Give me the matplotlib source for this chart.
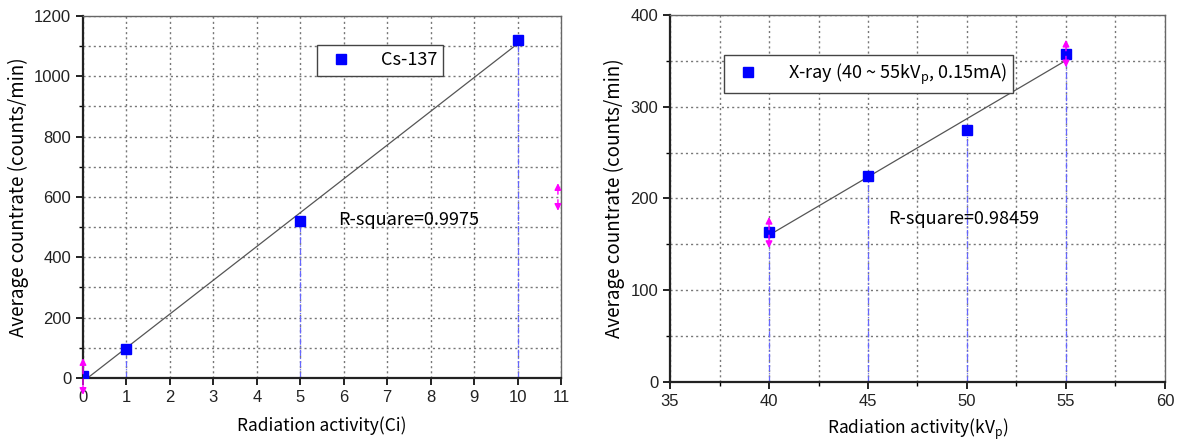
import numpy as np
import matplotlib.pyplot as plt
from matplotlib.ticker import MultipleLocator

plt.rcParams['font.family'] = ['Noto Sans CJK KR', 'DejaVu Sans']
plt.rcParams['mathtext.default'] = 'regular'

# Cs-137 data
cs_activity = [0, 1, 5, 10]
cs_counts = [5, 97, 520, 1122]
cs_r2 = 'R-square=0.9975'

# X-ray data
xr_kvp = [40, 45, 50, 55]
xr_counts = [163, 225, 275, 358]
xr_r2 = 'R-square=0.98459'

fig = plt.figure(figsize=(11.79, 4.45), dpi=100)
ax1 = fig.add_axes([0.0704, 0.1506, 0.4054, 0.8135])
ax2 = fig.add_axes([0.5683, 0.1416, 0.4198, 0.8247])


def style_axes(ax):
    for s in ['left', 'bottom']:
        ax.spines[s].set_linewidth(1.6)
        ax.spines[s].set_color('#222222')
    for s in ['top', 'right']:
        ax.spines[s].set_linewidth(1.0)
        ax.spines[s].set_color('#666666')
    ax.tick_params(which='major', direction='out', length=5, width=1.4, labelsize=12, colors='#222222')
    ax.tick_params(which='minor', direction='out', length=3, width=1.0)
    ax.grid(True, which='both', linestyle=(0, (1.5, 2.2)), color='#777777', linewidth=1.0)
    ax.set_axisbelow(True)


def draw(ax, x, y, label):
    x = np.array(x, dtype=float)
    y = np.array(y, dtype=float)
    # drop lines
    ax.vlines(x, 0, y, colors='#6666ff', linestyles=(0, (5, 1.5, 1, 1.5)), linewidth=0.9, zorder=2)
    k, b = np.polyfit(x, y, 1)
    xf = np.array([x.min(), x.max()])
    ax.plot(xf, k * xf + b, color='#555555', linewidth=0.9, zorder=3)
    ax.plot(x, y, 's', color='#0000ff', markersize=6.5, linestyle='none', label=label, zorder=4)


def mark(ax, xm, ym, dy):
    for sgn in (1, -1):
        ax.annotate('', xy=(xm, ym + sgn * dy), xytext=(xm, ym),
                    arrowprops=dict(arrowstyle='-|>', color='magenta', lw=1.0, mutation_scale=10),
                    annotation_clip=False, zorder=5)


# left panel
draw(ax1, cs_activity, cs_counts, 'Cs-137')
ax1.set_xlim(0, 11)
ax1.set_ylim(0, 1200)
ax1.xaxis.set_major_locator(MultipleLocator(1))
ax1.yaxis.set_major_locator(MultipleLocator(200))
ax1.yaxis.set_minor_locator(MultipleLocator(100))
style_axes(ax1)
ax1.set_xlabel('Radiation activity(Ci)', fontsize=12.5, labelpad=8)
ax1.set_ylabel('Average countrate (counts/min)', fontsize=13.5)
ax1.text(5.87, 507, cs_r2, fontsize=13)
leg1 = ax1.legend(loc='upper left', bbox_to_anchor=(0.47, 0.945), fontsize=13,
                  fancybox=False, edgecolor='#444444', framealpha=1, handletextpad=1.2,
                  borderpad=0.35)
leg1.get_frame().set_linewidth(1.0)
mark(ax1, 0, 5, 70)
mark(ax1, 10.93, 600, 55)

# right panel
draw(ax2, xr_kvp, xr_counts, 'X-ray (40 ~ 55kV$_p$, 0.15mA)')
ax2.set_xlim(35, 60)
ax2.set_ylim(0, 400)
ax2.xaxis.set_major_locator(MultipleLocator(5))
ax2.xaxis.set_minor_locator(MultipleLocator(2.5))
ax2.yaxis.set_major_locator(MultipleLocator(100))
ax2.yaxis.set_minor_locator(MultipleLocator(50))
style_axes(ax2)
ax2.set_xlabel('Radiation activity(kV$_p$)', fontsize=12.5, labelpad=6)
ax2.set_ylabel('Average countrate (counts/min)', fontsize=13.5)
ax2.text(46.0, 172, xr_r2, fontsize=13)
leg2 = ax2.legend(loc='upper left', bbox_to_anchor=(0.09, 0.915), fontsize=13,
                  fancybox=False, edgecolor='#444444', framealpha=1, handletextpad=1.2,
                  borderpad=0.35)
leg2.get_frame().set_linewidth(1.0)
mark(ax2, 40, 163, 20)
mark(ax2, 55, 358, 18)

# Arial-like digits on the ticks
fig.canvas.draw()
for ax in (ax1, ax2):
    for lab in ax.get_xticklabels() + ax.get_yticklabels():
        lab.set_fontfamily('Liberation Sans')

fig.savefig('out.png', dpi=100)
